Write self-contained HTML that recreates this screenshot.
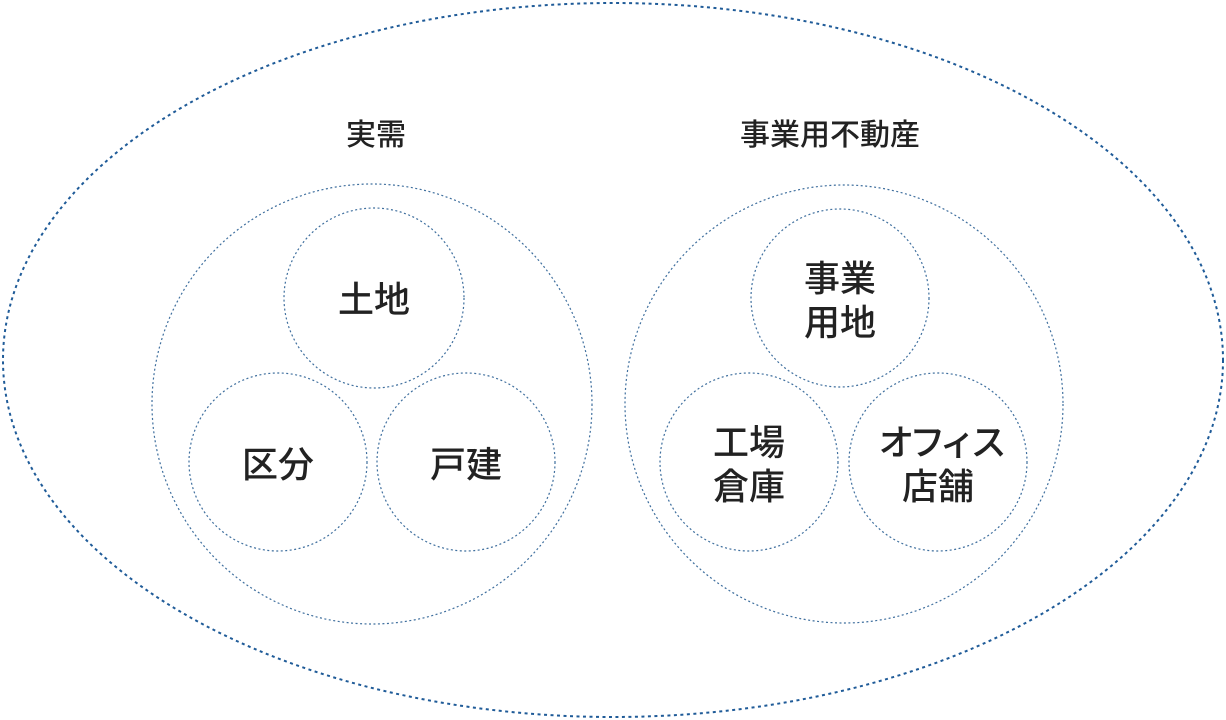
<!DOCTYPE html>
<html><head><meta charset="utf-8"><style>
html,body{margin:0;padding:0;background:#fff;}
svg{display:block;}
text{font-family:"Liberation Sans","Noto Sans CJK JP",sans-serif;fill:#222;text-anchor:middle;font-weight:500;}
</style></head><body>
<svg width="1226" height="720" viewBox="0 0 1226 720" xmlns="http://www.w3.org/2000/svg">
<ellipse cx="613" cy="360" rx="610" ry="357" fill="none" stroke="#1f5b98" stroke-width="2" stroke-dasharray="3 3.5"/>
<g fill="none" stroke="#3f6f9e" stroke-width="1.2" stroke-dasharray="2 2.5">
<circle cx="372" cy="404" r="220"/>
<circle cx="374" cy="298" r="90"/>
<circle cx="278" cy="462" r="89"/>
<circle cx="466" cy="462" r="89"/>
<circle cx="844" cy="404" r="219"/>
<circle cx="840" cy="298" r="89"/>
<circle cx="749" cy="462" r="89"/>
<circle cx="938" cy="462" r="89"/>
</g>
<text x="376" y="145" font-size="30">実需</text>
<text x="830" y="145" font-size="30">事業用不動産</text>
<text x="374" y="312" font-size="36">土地</text>
<text x="278" y="477" font-size="36">区分</text>
<text x="466" y="477" font-size="36">戸建</text>
<text x="840" y="291" font-size="36">事業</text>
<text x="840" y="335" font-size="36">用地</text>
<text x="749" y="455" font-size="36">工場</text>
<text x="749" y="499" font-size="36">倉庫</text>
<text x="940" y="455" font-size="36" letter-spacing="-5">オフィス</text>
<text x="938" y="499" font-size="36">店舗</text>
</svg>
</body></html>
